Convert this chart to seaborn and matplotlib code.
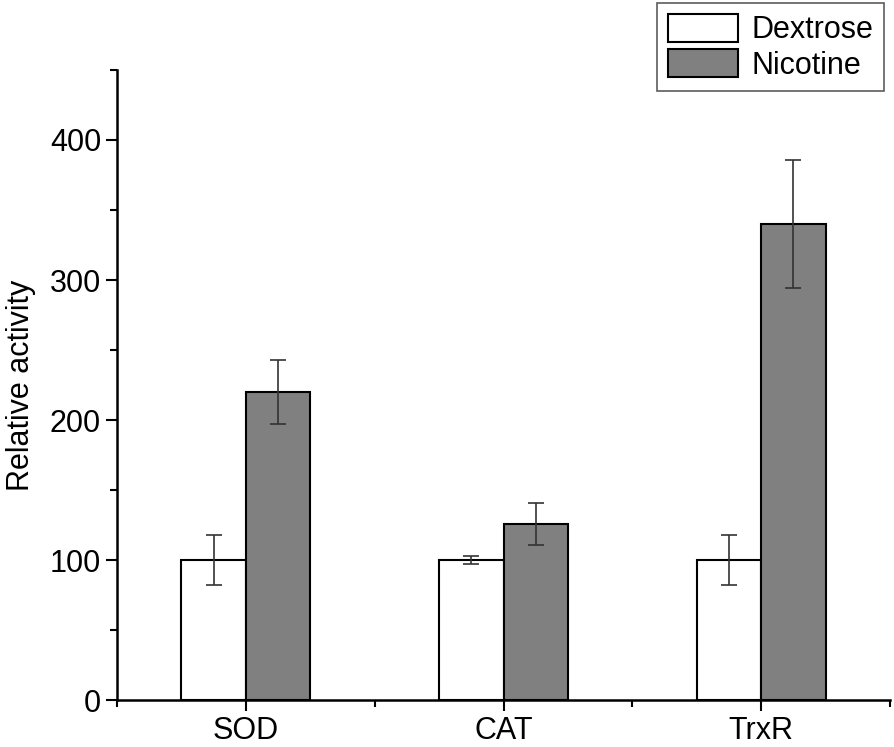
import pandas as pd
import matplotlib
matplotlib.use("Agg")
import matplotlib.pyplot as plt
import seaborn as sns
from matplotlib.ticker import MultipleLocator, FixedLocator

# --- Data ---
enzymes = ["SOD", "CAT", "TrxR"]
groups = ["Dextrose", "Nicotine"]
dextrose_mean = [100, 100, 100]
dextrose_err = [18, 3, 18]
nicotine_mean = [220, 126, 340]
nicotine_err = [23, 15, 46]

df = pd.DataFrame({
    "enzyme": enzymes * 2,
    "group": [groups[0]] * 3 + [groups[1]] * 3,
    "value": dextrose_mean + nicotine_mean,
    "err": dextrose_err + nicotine_err,
})

sns.set_style("ticks", {"axes.edgecolor": "black", "xtick.color": "black",
                        "ytick.color": "black", "text.color": "black",
                        "axes.labelcolor": "black"})
plt.rcParams["font.family"] = ["Liberation Sans", "DejaVu Sans"]

fig = plt.figure(figsize=(8.94, 7.47), dpi=100)
ax = fig.add_axes([0.1309, 0.0629, 0.8646, 0.8434])

palette = {"Dextrose": "white", "Nicotine": "#808080"}
sns.barplot(
    data=df, x="enzyme", y="value", hue="group", order=enzymes,
    hue_order=groups, palette=palette, width=0.5, errorbar=None,
    edgecolor="black", linewidth=1.5, saturation=1, ax=ax, legend=True,
)

# error bars from bar positions
for container, g in zip(ax.containers, groups):
    errs = df[df["group"] == g].set_index("enzyme").loc[enzymes, "err"].values
    for bar, e in zip(container, errs):
        xc = bar.get_x() + bar.get_width() / 2
        ax.errorbar(xc, bar.get_height(), yerr=e, fmt="none", ecolor="#333333",
                    elinewidth=1.2, capsize=6, capthick=1.2, zorder=5)

ax.set_xlim(-0.5, 2.5)
ax.set_ylim(0, 450)
ax.yaxis.set_major_locator(MultipleLocator(100))
ax.yaxis.set_minor_locator(MultipleLocator(50))
ax.xaxis.set_minor_locator(FixedLocator([-0.5, 0.5, 1.5, 2.5]))
ax.tick_params(axis="both", which="major", labelsize=22, length=8, width=1.5,
               direction="out", colors="black", labelcolor="black")
ax.tick_params(axis="both", which="minor", length=5, width=1.5, direction="out",
               colors="black")
for s in ["left", "bottom"]:
    ax.spines[s].set_linewidth(1.8)
    ax.spines[s].set_color("black")
sns.despine(ax=ax)
ax.set_xlabel("")
ax.set_ylabel("Relative activity", fontsize=22, labelpad=10, color="black")

handles, labels = ax.get_legend_handles_labels()
ax.legend_.remove()
fig.legend(handles, labels, loc="upper right", bbox_to_anchor=(0.989, 0.996),
           borderaxespad=0, fontsize=22, frameon=True, fancybox=False,
           edgecolor="#333333", handlelength=2.3, handleheight=1.05,
           labelspacing=0.12, borderpad=0.35, handletextpad=0.45)
fig.legends[0].get_frame().set_linewidth(1.2)

fig.savefig("out.png", dpi=100)
